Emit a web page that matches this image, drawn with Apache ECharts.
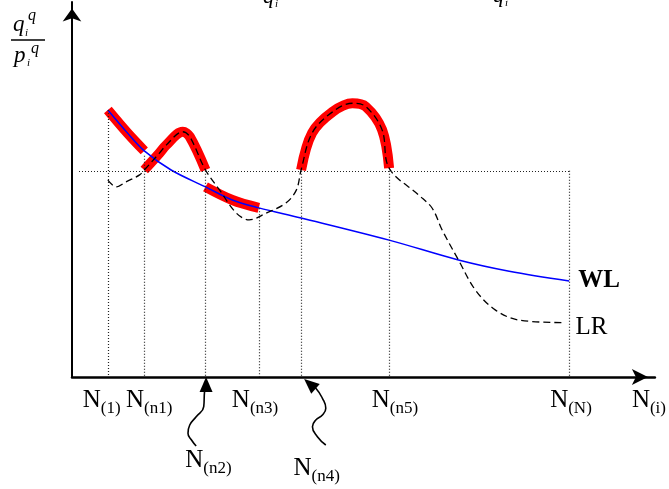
<!DOCTYPE html>
<html><head><meta charset="utf-8">
<script src="https://cdn.jsdelivr.net/npm/echarts@6/dist/echarts.min.js"></script>
<style>html,body{margin:0;padding:0;background:#fff}#c{width:669px;height:489px}</style>
</head><body><div id="c"></div>
<script>
// ---- data (x: position along N(i) axis, y: q/p ratio, arbitrary 0-100 units) ----
const nNames = ['1', 'n1', 'n2', 'n3', 'n4', 'n5', 'N'];
const nPos   = [6.15, 12.4, 22.9, 32.05, 39.3, 54.4, 85.3];
const nTop   = [71.2, 59, 55, 45, 55, 55, 55];
const threshold = 55;
const thresholdStart = 1.2;

const tickNames = ['1', 'n1', 'n3', 'n5', 'N'];
const tickPos   = [5.08, 13.25, 31.4, 55.4, 85.6];

const wlX = [6.15, 9.5, 12.4, 17, 22.9, 27.5, 32.05, 39.3, 54.4, 66.3, 75, 85.3];
const wlY = [71.2, 65.1, 60.3, 55.2, 50.7, 47.2, 45.1, 42.4, 36.5, 31.2, 28.2, 25.6];

const lrX = [6.15, 7.6, 9.35, 11.6, 12.4, 15.0, 16.2, 19.0, 20.2, 22.9, 25.3, 28.2, 30.4, 33.3, 36.7, 38.5, 39.3, 41.2, 44.7, 48.1, 50.4, 53.2, 54.4, 59.5, 61.8, 63.5, 66.3, 69.2, 72.6, 76.6, 84.3];
const lrY = [52.5, 50.7, 52.1, 53.9, 55.2, 59.7, 61.9, 65.4, 64.1, 55.2, 49.9, 43.7, 41.9, 43.7, 46.4, 49.9, 55.2, 65.1, 70.7, 73.0, 72.1, 65.9, 55.7, 48.5, 45.0, 39.2, 31.2, 23.2, 17.9, 15.2, 14.5];

// highlighted (red) stretches: [curve, fromIndex, toIndex] into nPos
const redParts = [['WL', 0, 1], ['LR', 1, 2], ['WL', 2, 3], ['LR', 4, 5]];

const calloutNames = ['n2', 'n4'];
const calloutPos = [[23.4, -22.4], [41.97, -24.5]];
const arrowN2X = [22.74, 22.6, 21.3, 20.2, 19.9, 20.5, 21.3];
const arrowN2Y = [-3.92, -7.9, -10.6, -12.8, -15.0, -16.8, -18.4];
const arrowN2Head = [23.0, -2.0];
const arrowN4X = [41.83, 42.96, 43.54, 42.96, 41.83, 41.25, 42.1, 43.54];
const arrowN4Y = [-3.01, -5.68, -8.35, -10.13, -11.47, -13.25, -15.92, -18.13];
const arrowN4Head = [40.8, -1.87];

// ---- build ----
const zip = (xs, ys) => xs.map((x, i) => [x, ys[i]]);
const wl = zip(wlX, wlY);
const lr = zip(lrX, lrY);
const serif = '"Liberation Serif", "Times New Roman", serif';
const rich = {
  n: { fontFamily: serif, fontSize: 25, lineHeight: 26, verticalAlign: 'top', color: '#000', textBorderWidth: 0 },
  s: { fontFamily: serif, fontSize: 17, lineHeight: 17, padding: [12, 0, 0, 0], verticalAlign: 'top', color: '#000', textBorderWidth: 0 }
};
const nLabel = name => '{n|N}{s|(' + name + ')}';

const series = [];
redParts.forEach(([curve, a, b]) => {
  const src = curve === 'WL' ? wl : lr;
  const lo = nPos[a] - 0.01, hi = nPos[b] + 0.01;
  series.push({
    type: 'line', data: src.filter(p => p[0] >= lo && p[0] <= hi),
    smooth: 0.35, symbol: 'none', silent: true, z: 1,
    lineStyle: { color: '#ff0000', width: 10, cap: 'butt' }
  });
});
const dotted = { color: '#222', width: 1.2, type: [1, 2] };
series.push({
  name: 'WL', type: 'line', data: wl, smooth: 0.35, symbol: 'none', z: 3,
  lineStyle: { color: '#0000ff', width: 1.5 },
  endLabel: { show: true, formatter: 'WL', distance: 9, fontFamily: serif, fontWeight: 'bold', fontSize: 25, color: '#000' },
  markLine: {
    silent: true, symbol: 'none', label: { show: false }, lineStyle: dotted,
    data: nPos.map((x, i) => [{ coord: [x, nTop[i]] }, { coord: [x, 0] }])
      .concat([[{ coord: [thresholdStart, threshold] }, { coord: [nPos[6], threshold] }]])
  }
});
series.push({
  name: 'LR', type: 'line', data: lr, smooth: 0.35, symbol: 'none', z: 4,
  lineStyle: { color: '#000', width: 1.3, type: [7, 4] },
  endLabel: { show: true, formatter: 'LR', distance: 12, offset: [0, 5], fontFamily: serif, fontSize: 25, color: '#000' }
});
[[arrowN2X, arrowN2Y, arrowN2Head, 0], [arrowN4X, arrowN4Y, arrowN4Head, 49]].forEach(([xs, ys, head, rot]) => {
  series.push({
    type: 'line', clip: false, smooth: 0.5, symbol: 'none', z: 5,
    lineStyle: { color: '#000', width: 1.6 },
    data: [{ value: head, symbol: 'triangle', symbolSize: [13, 15], symbolRotate: rot, itemStyle: { color: '#000' } }]
      .concat(zip(xs, ys)),
    showSymbol: true
  });
});
series.push({
  type: 'scatter', clip: false, symbolSize: 1, itemStyle: { color: '#fff', opacity: 0 }, z: 6,
  data: calloutPos.map((p, i) => ({ value: p, name: calloutNames[i] })),
  label: { show: true, position: 'inside', color: '#000', textBorderWidth: 0, opacity: 1, formatter: p => nLabel(p.name), rich }
});

const chart = echarts.init(document.getElementById('c'));
chart.setOption({
  animation: false,
  backgroundColor: '#fff',
  grid: { left: 72, right: 12, top: 2, bottom: 112 },
  xAxis: {
    type: 'value', min: 0, max: 100,
    axisLine: { show: true, symbol: ['none', 'arrow'], symbolSize: [12, 16], symbolOffset: [0, -7], lineStyle: { color: '#000', width: 2.5 } },
    axisTick: { show: false }, splitLine: { show: false },
    axisLabel: {
      customValues: tickPos, margin: 11,
      formatter: v => { let k = 0; tickPos.forEach((p, i) => { if (Math.abs(p - v) < Math.abs(tickPos[k] - v)) k = i; }); return nLabel(tickNames[k]); },
      rich
    },
    name: nLabel('i'), nameLocation: 'end', nameGap: -23,
    nameTextStyle: { align: 'left', verticalAlign: 'top', padding: [11, 0, 0, 0], rich }
  },
  yAxis: {
    type: 'value', min: 0, max: 100,
    axisLine: { show: true, symbol: ['none', 'arrow'], symbolSize: [14, 13], symbolOffset: [0, -6.5], lineStyle: { color: '#000', width: 2 } },
    axisTick: { show: false }, splitLine: { show: false }, axisLabel: { show: false }
  },
  graphic: [
    { type: 'text', x: 13, y: 13, style: { text: 'q', fontFamily: serif, fontStyle: 'italic', fontSize: 23, fill: '#000' } },
    { type: 'text', x: 25, y: 28, style: { text: 'i', fontFamily: serif, fontStyle: 'italic', fontSize: 11, fill: '#000' } },
    { type: 'text', x: 28, y: 8, style: { text: 'q', fontFamily: serif, fontStyle: 'italic', fontSize: 16, fill: '#000' } },
    { type: 'line', shape: { x1: 11, y1: 40, x2: 45, y2: 40 }, style: { stroke: '#000', lineWidth: 1.5 } },
    { type: 'text', x: 14, y: 44, style: { text: 'p', fontFamily: serif, fontStyle: 'italic', fontSize: 23, fill: '#000' } },
    { type: 'text', x: 27, y: 58, style: { text: 'i', fontFamily: serif, fontStyle: 'italic', fontSize: 11, fill: '#000' } },
    { type: 'text', x: 31, y: 41, style: { text: 'q', fontFamily: serif, fontStyle: 'italic', fontSize: 16, fill: '#000' } },
    { type: 'text', x: 263, y: -14, style: { text: 'q', fontFamily: serif, fontStyle: 'italic', fontSize: 22, fill: '#000' } },
    { type: 'text', x: 275, y: -1, style: { text: 'i', fontFamily: serif, fontStyle: 'italic', fontSize: 11, fill: '#000' } },
    { type: 'text', x: 396, y: -12, style: { text: '=', fontFamily: serif, fontSize: 16, fill: '#000' } },
    { type: 'text', x: 493, y: -15, style: { text: 'q', fontFamily: serif, fontStyle: 'italic', fontSize: 22, fill: '#000' } },
    { type: 'text', x: 505, y: -2, style: { text: 'i', fontFamily: serif, fontStyle: 'italic', fontSize: 11, fill: '#000' } }
  ],
  series
});
</script></body></html>
